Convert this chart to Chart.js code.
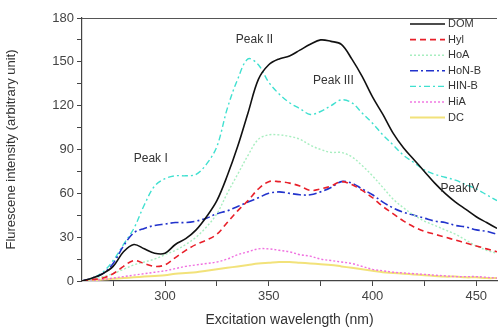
<!DOCTYPE html>
<html>
<head>
<meta charset="utf-8">
<script src="https://cdn.jsdelivr.net/npm/chart.js@4"></script>
<style>
  html, body { margin: 0; padding: 0; background: #fff; }
  #wrap { width: 498px; height: 333px; }
</style>
</head>
<body>
<div id="wrap"><canvas id="myChart" width="498" height="333"></canvas></div>
<script>
const wavelengths = [260,265,270,275,280,285,290,295,300,305,310,315,320,325,330,335,340,345,350,355,360,365,370,375,380,385,390,395,400,405,410,415,420,425,430,435,440,445,450,455,460];

const dom  = [0,2,5,10,20,25,22,19,19,25,29,35,44,55,72,92,115,138,148,152,154,158,162,165,164,162,152,140,126,114,101,91,83,75,67,60,54,49,44,40,36];
const hyl  = [0,1,2,5,10,14,12,10,11,16,21,25,28,32,40,48,55,63,68,68,67,65,62,63,65,68,66,62,57,51,46,41,37,34,32,30,28,26,24,22,20];
const hoa  = [0,1,3,5,8,11,13,15,18,21,25,30,37,46,60,73,86,97,100,100,99,97,93,90,88,88,85,79,72,64,56,50,45,41,38,35,32,28,24,21,19];
const honb = [0,2,5,12,24,33,36,38,39,40,40,41,43,46,48,51,54,57,60,61,60,59,59,61,64,68,67,63,59,54,50,47,45,43,41,40,38,37,35,34,32];
const hinb = [0,2,6,14,25,36,52,65,70,72,72,73,80,92,118,138,152,148,136,128,122,118,114,116,120,124,122,115,108,100,93,86,81,76,73,71,69,66,63,59,55];
const hia  = [0,0.5,1,2,3,4,5,6,7,8.5,10,11,12,13,15,18,20,22,22,21,20,18,17,15,14,13,12,10,8,7,6,5.5,5,4.5,4,3.5,3,3,3,2.5,2];
const dc   = [0,0.5,1,1.5,2,2.5,3,3.5,4,5,5.5,6,7,8,9,10,11,12,12.5,13,13,12.5,12,11.5,11,10,9,8,7,6,5.5,5,4.5,4,3.5,3,3,2.5,2.5,2,2];

const seriesNames = ['DOM', 'Hyl', 'HoA', 'HoN-B', 'HIN-B', 'HiA', 'DC'];
const xTicks = [275, 300, 325, 350, 375, 400, 425, 450];
const xLabels = [300, 350, 400, 450];
const yTicks = [0, 15, 30, 45, 60, 75, 90, 105, 120, 135, 150, 165, 180];
const yLabels = [0, 30, 60, 90, 120, 150, 180];

const peakTexts = ['Peak I', 'Peak II', 'Peak III', 'PeakIV'];
const peakPos = [[297, 84], [347, 165], [385, 137], [446, 63]];

const styles = [
    {color: '#111111', dash: [], width: 1.6},
    {color: '#e8202a', dash: [6, 4], width: 1.6},
    {color: '#a8eec0', dash: [2, 2], width: 1.4},
    {color: '#2233cc', dash: [8, 3, 2, 3], width: 1.6},
    {color: '#40e0d0', dash: [6, 3, 2, 3], width: 1.4},
    {color: '#f070e0', dash: [2, 2], width: 1.4},
    {color: '#f2e27a', dash: [], width: 2}
];

const allSeries = [dom, hyl, hoa, honb, hinb, hia, dc];

const datasets = allSeries.map((vals, i) => ({
    label: seriesNames[i],
    data: vals.map((v, j) => ({x: wavelengths[j], y: v})),
    borderColor: styles[i].color,
    borderDash: styles[i].dash,
    borderWidth: styles[i].width,
    pointRadius: 0,
    tension: 0.35,
    fill: false
}));

// legend inside plot + peak labels + top frame
const extras = {
    id: 'extras',
    afterDraw(chart) {
        const c = chart.ctx;
        const area = chart.chartArea;
        c.save();
        c.strokeStyle = '#555';
        c.lineWidth = 1;
        c.beginPath();
        c.moveTo(area.left, area.top + 0.5);
        c.lineTo(area.right, area.top + 0.5);
        c.stroke();

        c.font = '11px "Liberation Sans", Arial, sans-serif';
        c.textBaseline = 'middle';
        chart.data.datasets.forEach((ds, i) => {
            const y = 24 + i * 15.6;
            c.strokeStyle = ds.borderColor;
            c.lineWidth = ds.borderWidth;
            c.setLineDash(ds.borderDash);
            c.beginPath();
            c.moveTo(410, y);
            c.lineTo(445, y);
            c.stroke();
            c.setLineDash([]);
            c.fillStyle = '#333';
            c.fillText(ds.label, 448, y);
        });

        const xs = chart.scales.x, ys = chart.scales.y;
        c.font = '12px "Liberation Sans", Arial, sans-serif';
        c.fillStyle = '#333';
        c.textAlign = 'center';
        peakTexts.forEach((t, i) => {
            c.fillText(t, xs.getPixelForValue(peakPos[i][0]) - 8, ys.getPixelForValue(peakPos[i][1]));
        });
        c.restore();
    }
};

const ctx = document.getElementById('myChart').getContext('2d');
const chart = new Chart(ctx, {
    type: 'line',
    data: { datasets: datasets },
    options: {
        responsive: false,
        animation: false,
        layout: { padding: { top: 18, right: 1, left: 0, bottom: 0 } },
        plugins: { legend: { display: false }, tooltip: { enabled: false } },
        scales: {
            x: {
                type: 'linear',
                min: 260,
                max: 460,
                afterBuildTicks: axis => { axis.ticks = xTicks.map(v => ({value: v})); },
                afterFit: axis => { axis.height = 52; },
                border: { color: '#444', width: 1.2 },
                grid: { drawOnChartArea: false, drawTicks: true, tickLength: 5, color: '#444' },
                ticks: {
                    autoSkip: false,
                    maxRotation: 0,
                    color: '#444',
                    font: { family: '"Liberation Sans", Arial, sans-serif', size: 13 },
                    callback: v => xLabels.includes(v) ? String(v) : ''
                },
                title: {
                    display: true,
                    text: 'Excitation wavelength (nm)',
                    color: '#333',
                    font: { family: '"Liberation Sans", Arial, sans-serif', size: 14 },
                    padding: { top: 4 }
                }
            },
            y: {
                min: 0,
                max: 180,
                afterBuildTicks: axis => { axis.ticks = yTicks.map(v => ({value: v})); },
                afterFit: axis => { axis.width = 82; },
                border: { color: '#444', width: 1.2 },
                grid: { drawOnChartArea: false, drawTicks: true, tickLength: 5, color: '#444' },
                ticks: {
                    autoSkip: false,
                    color: '#444',
                    font: { family: '"Liberation Sans", Arial, sans-serif', size: 13 },
                    callback: v => yLabels.includes(v) ? String(v) : ''
                },
                title: {
                    display: true,
                    text: 'Flurescene intensity (arbitrary unit)',
                    color: '#333',
                    font: { family: '"Liberation Sans", Arial, sans-serif', size: 13 },
                    padding: { bottom: 2 }
                }
            }
        }
    },
    plugins: [extras]
});
</script>
</body>
</html>
